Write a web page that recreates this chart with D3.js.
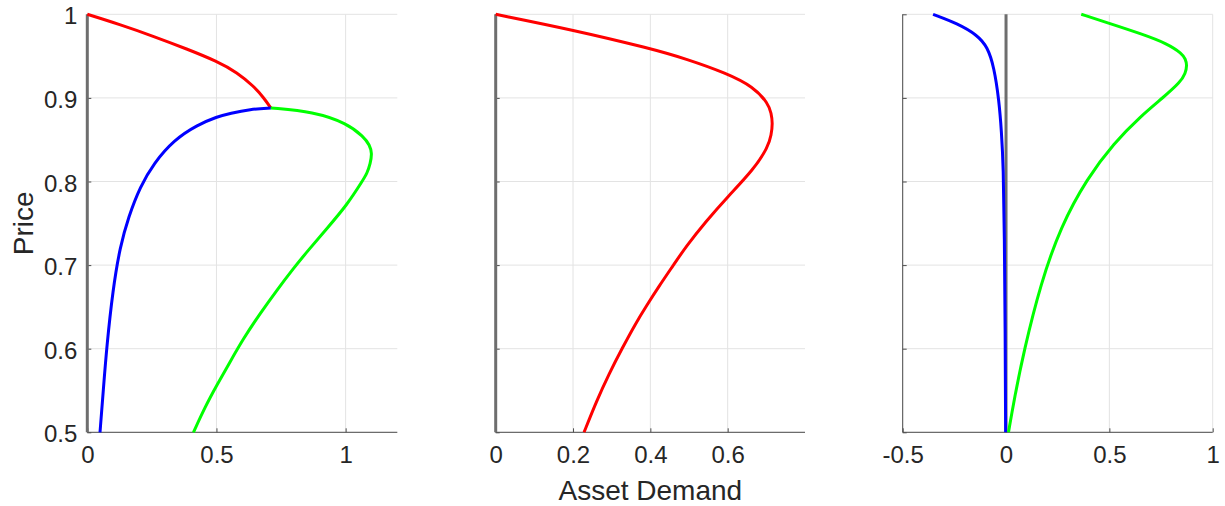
<!DOCTYPE html>
<html>
<head>
<meta charset="utf-8">
<script src="https://cdn.jsdelivr.net/npm/d3@7/dist/d3.min.js"></script>
<style>
  html, body { margin: 0; padding: 0; background: #fff; }
  svg { display: block; }
  text { font-family: "Liberation Sans", Arial, Helvetica, sans-serif; fill: #262626; }
</style>
</head>
<body>
<svg id="chart" width="1225" height="506"></svg>
<script>
// Price axis shared by all three panels
const priceTicks = [0.5, 0.6, 0.7, 0.8, 0.9, 1];
const priceTickLabels = ["0.5", "0.6", "0.7", "0.8", "0.9", "1"];

// Demand-axis ticks per panel
const demandTicks1 = [0, 0.5, 1];
const demandTicks2 = [0, 0.2, 0.4, 0.6];
const demandTicks3 = [-0.5, 0, 0.5, 1];

// Panel 1 curves: [demand, price]
const panel1Red = [[0, 1], [0.128, 0.9876], [0.2574, 0.9736], [0.3864, 0.9584], [0.5027, 0.9438],
  [0.5802, 0.9304], [0.645, 0.9138], [0.6837, 0.8998], [0.7105, 0.888]];
const panel1Blue = [[0.0492, 0.5], [0.062, 0.5506], [0.0752, 0.6024], [0.0988, 0.6702], [0.1267, 0.722],
  [0.1597, 0.7579], [0.2043, 0.7938], [0.2574, 0.8218], [0.3349, 0.8496], [0.4252, 0.8676],
  [0.5027, 0.8775], [0.553, 0.8816], [0.63, 0.8864], [0.7105, 0.888]];
const panel1Green = [[0.7105, 0.888], [0.876, 0.8835], [1.0054, 0.8696], [1.0698, 0.8536], [1.093, 0.8437],
  [1.1023, 0.8337], [1.0957, 0.8218], [1.0829, 0.8098], [1.0674, 0.8018], [1.0054, 0.7719],
  [0.9225, 0.742], [0.8504, 0.716], [0.7984, 0.6962], [0.7341, 0.6702], [0.6694, 0.6423],
  [0.6047, 0.6124], [0.5531, 0.5845], [0.5016, 0.5566], [0.4562, 0.5306], [0.4109, 0.5]];

// Panel 2 curve
const panel2Red = [[0, 1], [0.2007, 0.9812], [0.399, 0.9593], [0.4939, 0.9465], [0.5974, 0.9294],
  [0.6662, 0.9134], [0.7049, 0.8935], [0.7127, 0.8816], [0.7163, 0.8696], [0.7127, 0.8556],
  [0.7049, 0.8416], [0.6662, 0.8138], [0.6, 0.7818], [0.543, 0.7519],
  [0.4918, 0.722], [0.4597, 0.7], [0.4216, 0.6742], [0.3913, 0.6523], [0.3621, 0.6304],
  [0.3271, 0.6005], [0.2938, 0.5706], [0.26, 0.5366], [0.2285, 0.5]];

// Panel 3 curves
const panel3Blue = [[-0.353, 1], [-0.235, 0.989], [-0.138, 0.975], [-0.090, 0.961], [-0.058, 0.937],
  [-0.034, 0.897], [-0.022, 0.860], [-0.013, 0.818], [-0.008, 0.738], [-0.004, 0.618], [-0.002, 0.5]];
const panel3Green = [[0.364, 1], [0.490, 0.990], [0.651, 0.977], [0.780, 0.965], [0.852, 0.953],
  [0.868, 0.9465], [0.876, 0.939], [0.868, 0.9294], [0.844, 0.919], [0.763, 0.901], [0.651, 0.878],
  [0.522, 0.846], [0.393, 0.804], [0.264, 0.746], [0.168, 0.678], [0.087, 0.598], [0.039, 0.539],
  [0.012, 0.5]];

// Zero-demand reference line
const zeroDemand = 0;

const svg = d3.select("#chart");
const plotTop = 14.3, plotBottom = 432.3;
const y = d3.scaleLinear().domain([0.5, 1]).range([plotBottom, plotTop]);

const panels = [
  { left: 87.3, right: 397.3, domain: [0, 1.2], ticks: demandTicks1, yLabels: true,
    curves: [{ d: panel1Red, c: "#ff0000" }, { d: panel1Blue, c: "#0000ff" }, { d: panel1Green, c: "#00ff00" }] },
  { left: 495.7, right: 805, domain: [0, 0.8], ticks: demandTicks2, yLabels: false,
    curves: [{ d: panel2Red, c: "#ff0000" }] },
  { left: 902.7, right: 1212.7, domain: [-0.5, 1], ticks: demandTicks3, yLabels: false,
    curves: [{ d: panel3Blue, c: "#0000ff" }, { d: panel3Green, c: "#00ff00" }] }
];

const fmt = v => (v === 0 ? "0" : String(v));

panels.forEach(p => {
  const x = d3.scaleLinear().domain(p.domain).range([p.left, p.right]);
  const g = svg.append("g");

  // grid
  g.append("g").selectAll("line").data(p.ticks).join("line")
    .attr("x1", d => x(d)).attr("x2", d => x(d)).attr("y1", plotTop).attr("y2", plotBottom)
    .attr("stroke", "#e3e3e3").attr("stroke-width", 1);
  g.append("g").selectAll("line").data(priceTicks).join("line")
    .attr("x1", p.left).attr("x2", p.right).attr("y1", d => y(d)).attr("y2", d => y(d))
    .attr("stroke", "#e3e3e3").attr("stroke-width", 1);

  // bottom axis (inward ticks)
  const xAxis = d3.axisBottom(x).tickValues(p.ticks).tickSize(-4).tickPadding(14).tickFormat(fmt);
  const xa = g.append("g").attr("transform", `translate(0,${plotBottom})`).call(xAxis);
  xa.select(".domain").attr("stroke", "#4d4d4d").attr("d", `M${p.left},0H${p.right}`);
  xa.selectAll(".tick line").attr("stroke", "#4d4d4d");
  xa.selectAll(".tick text").attr("font-size", 24).attr("fill", "#262626")
    .attr("font-family", "'Liberation Sans', Arial, sans-serif").attr("dy", "0.71em");

  // left axis (inward ticks)
  const yAxis = d3.axisLeft(y).tickValues(priceTicks).tickSize(-4).tickPadding(10)
    .tickFormat((d, i) => p.yLabels ? priceTickLabels[i] : "");
  const ya = g.append("g").attr("transform", `translate(${p.left},0)`).call(yAxis);
  ya.select(".domain").attr("stroke", "#4d4d4d").attr("d", `M0,${plotTop}V${plotBottom}`);
  ya.selectAll(".tick line").attr("stroke", "#4d4d4d");
  ya.selectAll(".tick text").attr("font-size", 24).attr("fill", "#262626")
    .attr("font-family", "'Liberation Sans', Arial, sans-serif").attr("dy", "0.4em");

  // zero-demand line
  g.append("line")
    .attr("x1", x(zeroDemand)).attr("x2", x(zeroDemand)).attr("y1", plotTop).attr("y2", plotBottom)
    .attr("stroke", "#6e6e6e").attr("stroke-width", 3);

  // demand curves (B-spline through the read points)
  const line = d3.line().x(d => x(d[0])).y(d => y(d[1])).curve(d3.curveBasis);
  p.curves.forEach(cv => {
    g.append("path").attr("d", line(cv.d)).attr("fill", "none")
      .attr("stroke", cv.c).attr("stroke-width", 3).attr("stroke-linejoin", "round");
  });
});

// axis titles
svg.append("text").attr("x", 650.3).attr("y", 500).attr("text-anchor", "middle")
  .attr("font-size", 28).text("Asset Demand");
svg.append("text").attr("transform", `translate(33,${(plotTop + plotBottom) / 2}) rotate(-90)`)
  .attr("text-anchor", "middle").attr("font-size", 28).text("Price");
</script>
</body>
</html>
